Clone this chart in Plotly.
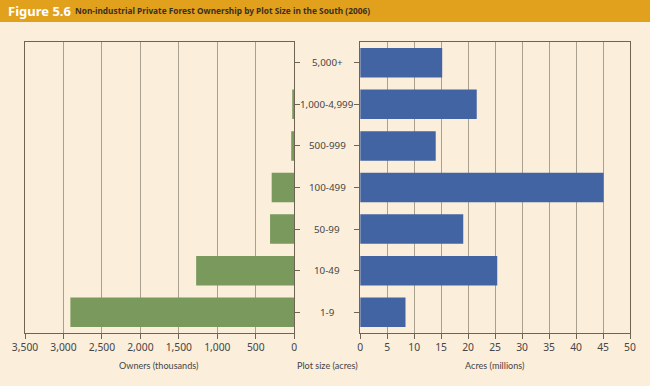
import plotly.graph_objects as go

categories = ['1-9', '10-49', '50-99', '100-499', '500-999', '1,000-4,999', '5,000+']
owners_thousands = [2910, 1275, 314, 293, 39, 26, 2]
acres_millions = [8.4, 25.4, 19.1, 45.1, 14.0, 21.6, 15.2]
owner_ticks = [0, 500, 1000, 1500, 2000, 2500, 3000, 3500]
acre_ticks = [0, 5, 10, 15, 20, 25, 30, 35, 40, 45, 50]

BG = '#fbeedb'
GREEN = '#7a995c'
BLUE = '#4264a3'
GRID = '#aaa090'
LINE = '#6e6454'
TXT = '#454545'
TICKFONT = dict(family='Noto Sans, Open Sans, sans-serif', size=10.3, color=TXT)
CATFONT = dict(family='Noto Sans, Open Sans, sans-serif', size=9.8, color=TXT)
TITLEFONT = dict(family='Lato, Noto Sans, sans-serif', size=9.1, color=TXT)

fig = go.Figure()
fig.add_trace(go.Bar(y=categories, x=owners_thousands, orientation='h',
                     marker=dict(color=GREEN, line=dict(width=0)),
                     xaxis='x', yaxis='y', showlegend=False))
fig.add_trace(go.Bar(y=categories, x=acres_millions, orientation='h',
                     marker=dict(color=BLUE, line=dict(width=0)),
                     xaxis='x2', yaxis='y2', showlegend=False))

axis_common = dict(showline=True, linecolor=LINE, linewidth=1, mirror=True,
                   ticks='outside', ticklen=5, tickcolor=LINE,
                   tickfont=TICKFONT, zeroline=False)

fig.update_layout(
    width=650, height=386,
    margin=dict(l=21, r=20, t=42, b=53),
    paper_bgcolor=BG, plot_bgcolor=BG,
    bargap=0.29,
    xaxis=dict(domain=[0, 0.445], range=[3500, 0], tickvals=owner_ticks,
               tickformat=',', showgrid=True, gridcolor=GRID, gridwidth=1,
               anchor='y', **axis_common),
    yaxis=dict(domain=[0, 1], side='right', showticklabels=False,
               categoryorder='array', categoryarray=categories,
               showgrid=False, anchor='x', **axis_common),
    xaxis2=dict(domain=[0.554, 1], range=[0, 50], tickvals=acre_ticks,
                showgrid=True, gridcolor=GRID, gridwidth=1,
                anchor='y2', **axis_common),
    yaxis2=dict(domain=[0, 1], side='left', showticklabels=False,
                categoryorder='array', categoryarray=categories,
                showgrid=False, anchor='x2', **axis_common),
)

# header bar
fig.add_shape(type='rect', xref='paper', yref='paper',
              x0=-0.05, x1=1.05, y0=1 + 20 / 291, y1=1 + 45 / 291,
              fillcolor='#e2a11c', line=dict(width=0), layer='above')
fig.add_annotation(xref='paper', yref='paper', x=-19 / 609, y=1 + 31 / 291,
                   xanchor='left', yanchor='middle', showarrow=False,
                   text='<b>Figure 5.6</b>',
                   font=dict(family='Noto Sans, sans-serif', size=13, color='white'))
fig.add_annotation(xref='paper', yref='paper', x=48 / 609, y=1 + 31 / 291,
                   xanchor='left', yanchor='middle', showarrow=False,
                   text='<b>Non-industrial Private Forest Ownership by Plot Size in the South (2006)</b>',
                   font=dict(family='Noto Sans', size=8.3, color='#3a3020'))

# category labels centred between the two panels
for c in categories:
    fig.add_annotation(xref='paper', yref='y2', x=304 / 609, y=c,
                       xanchor='center', yanchor='middle', showarrow=False,
                       text=c, font=CATFONT)

# axis titles
titles = [('Owners (thousands)', 135 / 609), ('Plot size (acres)', 304 / 609),
          ('Acres (millions)', 473.5 / 609)]
for t, xp in titles:
    fig.add_annotation(xref='paper', yref='paper', x=xp, y=-32 / 291,
                       xanchor='center', yanchor='middle', showarrow=False,
                       text=t, font=TITLEFONT)

fig.write_html('out.html', config={'displayModeBar': False},
               post_script="document.body.style.margin='0';")
